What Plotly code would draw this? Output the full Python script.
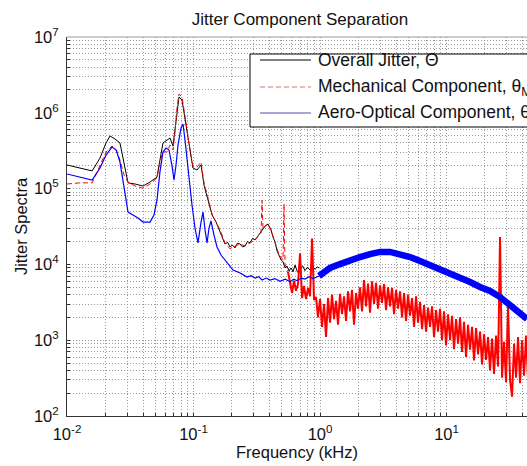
import plotly.graph_objects as go

# ---------------- data (frequency in kHz, spectra in arbitrary units) ----------------
overall_freq = [0.0100, 0.01267, 0.0158, 0.01824, 0.02034, 0.02188, 0.02396, 0.02623, 0.02823, 0.03036,
                0.0345, 0.03991, 0.04532, 0.05146, 0.0543, 0.05738, 0.06177, 0.06521, 0.06885, 0.07141,
                0.07407, 0.07682, 0.0811, 0.08563, 0.08881, 0.09376, 0.09899, 0.1066, 0.1147, 0.1211,
                0.1303, 0.1401, 0.1507, 0.162, 0.170, 0.1774, 0.186, 0.1944, 0.203, 0.213,
                0.222, 0.2333, 0.244, 0.2555, 0.267, 0.2799, 0.293, 0.3066, 0.3234, 0.335,
                0.3481, 0.3675, 0.388, 0.4097, 0.425, 0.441, 0.458, 0.4746, 0.492, 0.5108,
                0.529, 0.5484, 0.569, 0.5903, 0.612, 0.6342, 0.664, 0.6946, 0.727, 0.7607,
                0.797, 0.8331, 0.872, 0.9124, 0.95, 0.9818]
overall_val = [2.05e5, 1.87e5, 1.71e5, 2.53e5, 4.0e5, 4.95e5, 4.51e5, 4.0e5, 2.05e5, 1.19e5,
               1.15e5, 1.08e5, 1.22e5, 1.42e5, 2.38e5, 4.0e5, 4.37e5, 4.65e5, 3.65e5, 5.93e5,
               1.09e6, 1.62e6, 1.47e6, 8.53e5, 5.93e5, 3.04e5, 1.87e5, 1.76e5, 2.05e5, 1.11e5,
               7.08e4, 4.49e4, 3.62e4, 2.67e4, 2.3e4, 1.86e4, 1.95e4, 1.70e4, 1.8e4, 1.65e4,
               1.9e4, 1.86e4, 1.7e4, 1.75e4, 2.0e4, 1.92e4, 2.2e4, 2.1e4, 2.37e4, 2.6e4,
               2.85e4, 3.21e4, 3.41e4, 2.85e4, 2.3e4, 1.98e4, 1.5e4, 1.33e4, 1.15e4, 1.08e4,
               9.0e3, 9.5e3, 8.2e3, 8.97e3, 8.0e3, 9.8e3, 7.9e3, 8.43e3, 9.6e3, 8.3e3,
               9.2e3, 8.43e3, 9.5e3, 8.6e3, 9.3e3, 8.97e3]

# mechanical component, low-frequency part (dashed)
mech_lf_freq = [0.0100, 0.01267, 0.0158, 0.01824, 0.02034, 0.0227, 0.0245, 0.02623, 0.02823, 0.03036,
                0.0345, 0.03991, 0.04532, 0.05146, 0.0543, 0.05738, 0.06177, 0.06521, 0.06885, 0.07141,
                0.07407, 0.07682, 0.0811, 0.08563, 0.08881, 0.09376, 0.09899, 0.1066, 0.1147, 0.1211,
                0.1303, 0.1401, 0.1507, 0.162, 0.1774, 0.1944, 0.213, 0.2333, 0.2555, 0.2799,
                0.3066, 0.3234, 0.3418, 0.3480, 0.3543, 0.3675, 0.388, 0.4097, 0.441, 0.4746,
                0.5101, 0.5193, 0.5288, 0.558]
mech_lf_val = [1.15e5, 1.19e5, 1.19e5, 2.05e5, 3.04e5, 3.65e5, 3.23e5, 2.38e5, 1.51e5, 1.22e5,
               1.08e5, 1.01e5, 1.15e5, 1.38e5, 2.24e5, 3.04e5, 3.04e5, 3.76e5, 3.23e5, 5.58e5,
               1.16e6, 1.77e6, 1.62e6, 9.1e5, 5.93e5, 3.23e5, 1.99e5, 1.93e5, 2.24e5, 1.19e5,
               7.5e4, 4.62e4, 3.62e4, 2.85e4, 1.92e4, 1.6e4, 1.75e4, 1.86e4, 1.75e4, 1.92e4,
               2.1e4, 2.37e4, 2.6e4, 7.0e4, 2.9e4, 3.2e4, 3.4e4, 2.85e4, 1.98e4, 1.33e4,
               1.15e4, 6.3e4, 1.0e4, 8.0e3]

# mechanical component, noisy high-frequency part
mech_hf_freq = [0.558,
                0.579, 0.601, 0.623, 0.646, 0.670, 0.695, 0.721, 0.747, 0.775, 0.804,
                0.834, 0.865, 0.897, 0.930, 0.964, 1.000, 1.037, 1.076, 1.115, 1.157,
                1.200, 1.244, 1.290, 1.338, 1.388, 1.439, 1.493, 1.548, 1.606, 1.665,
                1.727, 1.791, 1.857, 1.926, 1.997, 2.071, 2.148, 2.228, 2.310, 2.396,
                2.485, 2.577, 2.673, 2.772, 2.874, 2.981, 3.091, 3.206, 3.325, 3.448,
                3.576, 3.709, 3.846, 3.989, 4.137, 4.290, 4.449, 4.614, 4.785, 4.963,
                5.146, 5.337, 5.535, 5.741, 5.953, 6.174, 6.403, 6.641, 6.886, 7.142,
                7.406, 7.681, 7.966, 8.261, 8.567, 8.885, 9.214, 9.555, 9.909, 10.28,
                10.66, 11.05, 11.46, 11.89, 12.33, 12.79, 13.26, 13.75, 14.26, 14.79,
                15.34, 15.91, 16.50, 17.11, 17.74, 18.40, 19.08, 19.79, 20.53, 21.29,
                22.07, 22.89, 23.74, 24.62, 25.54, 26.48, 27.47, 28.48, 29.54, 30.64,
                31.77, 32.95, 34.17, 35.44, 36.75, 38.11, 39.53, 40.99, 42.51, 44.09]
mech_hf_val = [8.0e3,
               5.8e3, 4.2e3, 6.1e3, 4.5e3, 5.5e3, 1.4e4, 3.6e3, 5.2e3, 3.5e3, 4.9e3,
               3.8e3, 2.2e4, 3.4e3, 3.7e3, 2.0e3, 3.5e3, 1.5e3, 3.0e3, 1.1e3, 3.6e3,
               1.7e3, 4.0e3, 1.9e3, 3.3e3, 1.6e3, 4.1e3, 2.2e3, 3.8e3, 1.8e3, 4.4e3,
               2.4e3, 4.6e3, 1.6e3, 4.2e3, 2.6e3, 5.0e3, 2.4e3, 6.2e3, 2.8e3, 5.6e3,
               2.3e3, 6.0e3, 3.0e3, 5.7e3, 2.6e3, 5.3e3, 3.1e3, 5.5e3, 2.5e3, 5.0e3,
               2.8e3, 4.9e3, 2.2e3, 4.6e3, 2.6e3, 4.4e3, 2.0e3, 4.2e3, 1.8e3, 4.0e3,
               2.1e3, 3.6e3, 1.5e3, 3.8e3, 1.7e3, 3.2e3, 1.4e3, 2.9e3, 1.3e3, 2.7e3,
               1.5e3, 2.8e3, 1.1e3, 2.5e3, 1.3e3, 2.6e3, 1.0e3, 2.4e3, 8.5e2, 2.2e3,
               1.0e3, 2.1e3, 7.6e2, 1.9e3, 9.0e2, 2.0e3, 7.0e2, 1.75e3, 6.0e2, 1.6e3,
               7.5e2, 1.5e3, 5.4e2, 1.45e3, 6.5e2, 1.3e3, 4.8e2, 1.2e3, 5.5e2, 1.1e3,
               4.0e2, 1.05e3, 3.6e2, 1.15e3, 4.5e2, 2.3e4, 3.2e2, 9.5e2, 2.8e2, 2.8e3,
               3.0e2, 1.8e2, 9.0e2, 3.2e2, 1.1e3, 2.7e2, 1.0e3, 3.4e2, 1.15e3, 3.0e2]

# aero-optical component, low-frequency part
aero_lf_freq = [0.0100, 0.01267, 0.0158, 0.01824, 0.02034, 0.0227, 0.0245, 0.02623, 0.02773, 0.02926,
                0.03036, 0.03324, 0.0364, 0.03991, 0.04532, 0.04872, 0.05146, 0.0543, 0.05738, 0.06061,
                0.06403, 0.06761, 0.07012, 0.07273, 0.07543, 0.07966, 0.08261, 0.08563, 0.08881, 0.09214,
                0.09729, 0.1027, 0.1085, 0.1147, 0.1189, 0.1233, 0.1279, 0.1326, 0.1375, 0.1452,
                0.1534, 0.165, 0.1774, 0.1908, 0.2053, 0.2333, 0.25, 0.2648, 0.285, 0.3066,
                0.327, 0.3481, 0.375, 0.4025, 0.44, 0.4829, 0.53, 0.579, 0.62, 0.658,
                0.71, 0.7607, 0.82, 0.8804, 0.9818]
aero_lf_val = [1.56e5, 1.42e5, 1.30e5, 1.87e5, 2.77e5, 3.54e5, 3.23e5, 2.24e5, 1.30e5, 7.08e4,
               4.91e4, 4.49e4, 4.09e4, 3.62e4, 3.62e4, 4.49e4, 7.08e4, 1.66e5, 3.04e5, 3.43e5,
               3.23e5, 1.99e5, 1.30e5, 2.05e5, 3.76e5, 6.30e5, 7.11e5, 4.37e5, 2.38e5, 1.38e5,
               6.08e4, 3.02e4, 1.92e4, 3.62e4, 4.91e4, 2.85e4, 1.92e4, 3.02e4, 3.74e4, 2.44e4,
               1.70e4, 1.33e4, 1.14e4, 9.82e3, 8.43e3, 7.7e3, 7.2e3, 6.82e3, 7.1e3, 6.6e3,
               6.9e3, 6.23e3, 6.6e3, 6.2e3, 6.5e3, 6.0e3, 6.4e3, 5.9e3, 6.4e3, 6.1e3,
               6.6e3, 6.4e3, 6.9e3, 6.5e3, 7.03e3]

# aero-optical component, broadband high-frequency part
aero_hf_freq = [0.9818, 1.2, 1.439, 1.726, 2.071, 2.485, 2.981, 3.576, 4.29, 5.146,
                6.173, 7.405, 8.883, 10.66, 12.79, 15.34, 18.4, 22.07, 26.48, 31.76,
                38.1, 43.27]
aero_hf_val = [7.03e3, 8.97e3, 1.01e4, 1.14e4, 1.25e4, 1.37e4, 1.46e4, 1.46e4, 1.37e4, 1.25e4,
               1.11e4, 9.82e3, 8.70e3, 7.71e3, 6.82e3, 5.86e3, 5.04e3, 4.46e3, 3.71e3, 2.91e3,
               2.28e3, 1.90e3]

x_decades = [0.01, 0.1, 1, 10, 100]
x_decade_labels = ["10<sup>-2</sup>", "10<sup>-1</sup>", "10<sup>0</sup>", "10<sup>1</sup>", ""]
y_decades = [1e2, 1e3, 1e4, 1e5, 1e6, 1e7]
y_decade_labels = ["10<sup>2</sup>", "10<sup>3</sup>", "10<sup>4</sup>",
                   "10<sup>5</sup>", "10<sup>6</sup>", "10<sup>7</sup>"]

legend_labels = ["Overall Jitter, \u0398",
                 "Mechanical Component, \u03b8<sub>M</sub>",
                 "Aero-Optical Component, \u03b8<sub>A</sub>"]

FONT = "Liberation Sans, Arial, Helvetica, sans-serif"
FS = 16.5
LEG_FS = 17.5
TXT = "#111111"
BLACK, RED, BLUE = "#000000", "#ff0000", "#0000ff"


def log_ticks(decades, labels, top):
    """Every 1..9 multiple of each decade gets a grid line; decades get a label."""
    vals, text = [], []
    for d, lab in zip(decades, labels):
        for m in range(1, 10):
            if d * m <= top:
                vals.append(d * m)
                text.append(lab if m == 1 else "")
    return vals, text


xt_vals, xt_text = log_ticks(x_decades, x_decade_labels, 100)
yt_vals, yt_text = log_ticks(y_decades, y_decade_labels, 1e7)

fig = go.Figure()
fig.add_trace(go.Scatter(x=overall_freq, y=overall_val, mode="lines",
                         line=dict(color=BLACK, width=1)))
fig.add_trace(go.Scatter(x=mech_lf_freq, y=mech_lf_val, mode="lines",
                         line=dict(color=RED, width=1, dash="5px,3px")))
fig.add_trace(go.Scatter(x=mech_hf_freq, y=mech_hf_val, mode="lines",
                         line=dict(color=RED, width=2)))
fig.add_trace(go.Scatter(x=aero_lf_freq, y=aero_lf_val, mode="lines",
                         line=dict(color=BLUE, width=1.2)))
fig.add_trace(go.Scatter(x=aero_hf_freq, y=aero_hf_val, mode="lines",
                         line=dict(color=BLUE, width=6.5)))

axis_common = dict(
    type="log", showgrid=True, gridcolor="#9a9a9a", griddash="1px,2px", gridwidth=1,
    showline=True, linecolor="#333333", linewidth=1, ticks="inside", ticklen=3,
    tickcolor="#333333", tickmode="array", zeroline=False,
    tickfont=dict(family=FONT, size=FS, color=TXT),
)

fig.update_layout(
    width=527, height=466,
    margin=dict(l=67, r=0, t=37, b=50, autoexpand=False),
    paper_bgcolor="white", plot_bgcolor="white",
    showlegend=False,
    font=dict(family=FONT, size=FS, color=TXT),
    title=dict(text="Jitter Component Separation", x=300 / 527, xref="container",
               xanchor="center", y=1 - 19 / 466, yref="container", yanchor="middle",
               font=dict(family=FONT, size=17, color=TXT)),
    xaxis=dict(axis_common, range=[-2, 1.636], tickvals=xt_vals, ticktext=xt_text,
               ticklabelstandoff=3,
               title=dict(text="Frequency (kHz)", standoff=4,
                          font=dict(family=FONT, size=FS, color=TXT))),
    yaxis=dict(axis_common, range=[2, 7], tickvals=yt_vals, ticktext=yt_text,
               ticklabelstandoff=4,
               title=dict(text="Jitter Spectra", standoff=2,
                          font=dict(family=FONT, size=FS, color=TXT))),
)

# top frame edge
fig.add_shape(type="line", xref="paper", yref="paper", x0=0, x1=1, y0=1, y1=1,
              line=dict(color="#9a9a9a", width=1))


# legend box, positioned in plot-area pixel terms (plot spans 67..527 x 37..416)
def px(x):
    return (x - 67) / 460.0


def py(y):
    return (416 - y) / 379.0


fig.add_shape(type="rect", xref="paper", yref="paper", x0=px(250), x1=1.0,
              y0=py(127), y1=py(54), line=dict(width=0),
              fillcolor="white", layer="above")
for x0, y0, x1, y1 in [(250, 54, 527, 54), (250, 127, 527, 127), (250, 54, 250, 127)]:
    fig.add_shape(type="line", xref="paper", yref="paper", x0=px(x0), x1=px(x1),
                  y0=py(y0), y1=py(y1), line=dict(color="#000000", width=1), layer="above")

legend_rows = [60, 87, 113]
legend_styles = [dict(color=BLACK, width=1), dict(color="#e07070", width=1, dash="5px,3px"),
                 dict(color="#5050a8", width=1.2)]
for ypix, style, label in zip(legend_rows, legend_styles, legend_labels):
    fig.add_shape(type="line", xref="paper", yref="paper", x0=px(260), x1=px(311),
                  y0=py(ypix), y1=py(ypix), line=style, layer="above")
    fig.add_annotation(text=label, xref="paper", yref="paper", x=px(316), y=py(ypix),
                       xanchor="left", yanchor="middle", showarrow=False,
                       font=dict(family=FONT, size=LEG_FS, color=TXT))

fig.write_html("out.html", config={"displayModeBar": False})
